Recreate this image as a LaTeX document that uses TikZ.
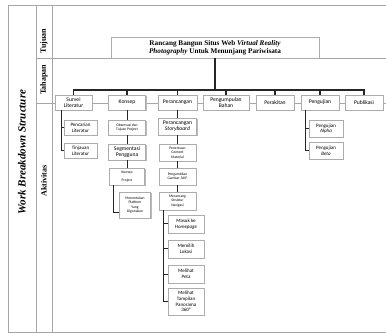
\documentclass[tikz,border=0pt]{standalone}
\usepackage{fontspec}
\setmainfont{Liberation Serif}
\newfontfamily\calibri{Carlito}
\usepackage{tikz}
\usetikzlibrary{shadows}

\begin{document}
\begin{tikzpicture}[x=1pt, y=-1pt,
  tableline/.style={draw=gray!70, line width=0.8pt},
  wbs/.style={draw=gray!65, fill=white, line width=0.5pt, align=center, inner sep=0.5pt,
    drop shadow={shadow xshift=1pt, shadow yshift=-1pt, fill=gray!55, opacity=1},
    font=\calibri\fontsize{5}{5.6}\selectfont},
  phase/.style={wbs, minimum height=15pt, font=\calibri\fontsize{5.6}{6}\selectfont},
  smallbox/.style={font=\calibri\fontsize{3.7}{4.4}\selectfont},
  link/.style={draw=black!85, line width=1pt},
  bus/.style={draw=black!85, line width=1.3pt}]
\useasboundingbox (0,0) rectangle (386,334);
\draw[tableline] (386,5) -- (8,5) -- (8,332) -- (386,332);
\draw[tableline] (36,5) -- (36,332) (52,5) -- (52,332);
\draw[tableline] (36,58) -- (386,58) (36,103) -- (386,103);
\node[rotate=90, font=\bfseries\itshape\fontsize{11}{12}\selectfont] (wbslabel) at (22,152) {Work Breakdown Structure};
\node[rotate=90, font=\bfseries\fontsize{8}{9}\selectfont] (tujuan) at (44,41) {Tujuan};
\node[rotate=90, font=\bfseries\fontsize{8}{9}\selectfont] (tahapan) at (44,80) {Tahapan};
\node[rotate=90, font=\bfseries\fontsize{8}{9}\selectfont] (aktivitas) at (44,181) {Aktivitas};
\node[wbs, minimum width=208pt, minimum height=21pt, font=\rmfamily\bfseries\fontsize{7.2}{8}\selectfont] (judul) at (215,47.5) {Rancang Bangun Situs Web \textit{Virtual Reality}\\\textit{Photography} Untuk Menunjang Pariwisata};
\node[phase, minimum width=37pt] (survei) at (73.5,102.5) {Survei\\Literatur};
\node[phase, minimum width=37pt] (konsep) at (127,102.5) {Konsep};
\node[phase, minimum width=39pt] (perancangan) at (177.5,102.5) {Perancangan};
\node[phase, minimum width=46pt] (pengumpulan) at (226,102.5) {Pengumpulan\\Bahan};
\node[phase, minimum width=38pt] (perakitan) at (275,102.5) {Perakitan};
\node[phase, minimum width=38pt] (pengujian) at (320,102.5) {Pengujian};
\node[phase, minimum width=38pt] (publikasi) at (364,102.5) {Publikasi};
\node[wbs, minimum width=33pt, minimum height=15pt] (pencarian) at (80.5,127.5) {Pencarian\\Literatur};
\node[wbs, minimum width=33pt, minimum height=15pt] (tinjauan) at (80.5,150.5) {Tinjauan\\Literatur};
\node[wbs, smallbox, minimum width=37pt, minimum height=15pt] (observasi) at (127,127.5) {Observasi dan\\Tujuan Project};
\node[wbs, minimum width=37pt, minimum height=16pt, font=\calibri\fontsize{5.6}{6}\selectfont] (segmentasi) at (127,152) {Segmentasi\\Pengguna};
\node[wbs, smallbox, minimum width=35pt, minimum height=17pt] (konsepproj) at (127,176.5) {Konsep\\[3pt]Project};
\node[wbs, smallbox, minimum width=31pt, minimum height=26pt] (menentukan) at (135,205) {Menentukan\\Platform\\Yang\\Digunakan};
\node[wbs, minimum width=38pt, minimum height=17pt, font=\calibri\fontsize{5.6}{6}\selectfont] (storyboard) at (177.5,126.5) {Perancangan\\\textit{Storyboard}};
\node[wbs, smallbox, minimum width=37pt, minimum height=17pt] (penentuan) at (177.5,152.5) {Penentuan\\Content\\Material};
\node[wbs, smallbox, minimum width=37pt, minimum height=17pt] (pengambilan) at (177.5,176.5) {Pengambilan\\Gambar 360°};
\node[wbs, smallbox, minimum width=37pt, minimum height=18pt] (merancang) at (177.5,201) {Merancang\\Struktur\\Navigasi};
\node[wbs, minimum width=36pt, minimum height=18pt] (masuk) at (186,224) {Masuk ke\\\textit{Homepage}};
\node[wbs, minimum width=36pt, minimum height=18pt] (memilih) at (186,249) {Memilih\\Lokasi};
\node[wbs, minimum width=36pt, minimum height=18pt] (peta) at (186,274) {Melihat\\Peta};
\node[wbs, minimum width=36pt, minimum height=27pt] (panorama) at (186,301.5) {Melihat\\Tampilan\\Panorama\\360°};
\node[wbs, minimum width=34pt, minimum height=17pt] (alpha) at (326,128.5) {Pengujian\\\textit{Alpha}};
\node[wbs, minimum width=34pt, minimum height=17pt] (beta) at (326,151) {Pengujian\\\textit{Beta}};
\coordinate (bus) at (0,90);
\draw[bus] (judul.south) -- (judul.south |- bus);
\draw[bus] (survei.north) -- (survei.north |- bus) -| (publikasi.north);
\foreach \n in {konsep,perancangan,pengumpulan,perakitan,pengujian}
  \draw[bus] (\n.north) -- (\n.north |- bus);
\draw[link] ([xshift=-12.5pt]survei.south) |- (pencarian.west);
\draw[link] ([xshift=-12.5pt]survei.south) |- (tinjauan.west);
\foreach \a/\b in {konsep/observasi,observasi/segmentasi,segmentasi/konsepproj,perancangan/storyboard,storyboard/penentuan,penentuan/pengambilan,pengambilan/merancang}
  \draw[link] (\a.south) -- (\b.north);
\draw[link] ([xshift=-13.5pt]konsepproj.south) |- ([yshift=-8pt]menentukan.west);
\foreach \n in {masuk,memilih,peta,panorama}
  \draw[link] ([xshift=-14pt]merancang.south) |- (\n.west);
\draw[link] ([xshift=-15pt]pengujian.south) |- (alpha.west);
\draw[link] ([xshift=-15pt]pengujian.south) |- (beta.west);
\end{tikzpicture}
\end{document}
